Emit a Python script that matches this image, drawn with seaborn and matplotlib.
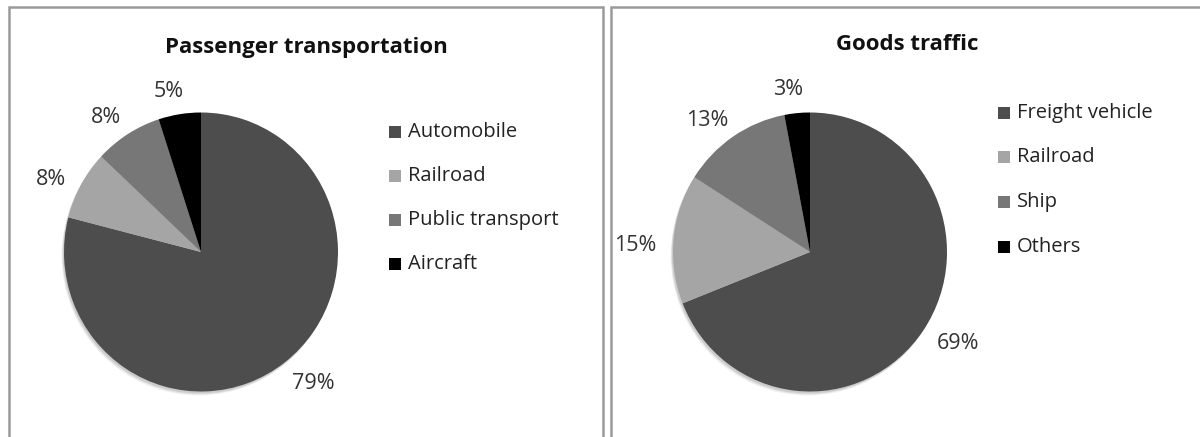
import matplotlib
matplotlib.use("Agg")
import numpy as np
import matplotlib.pyplot as plt
from matplotlib.patches import Rectangle, Ellipse
from matplotlib.transforms import offset_copy
import seaborn as sns

# Modal split data (share in %)
passenger_modes = ["Automobile", "Railroad", "Public transport", "Aircraft"]
passenger_share = [79, 8, 8, 5]

goods_modes = ["Freight vehicle", "Railroad", "Ship", "Others"]
goods_share = [69, 15, 13, 3]

titles = ["Passenger transportation", "Goods traffic"]

sns.set_theme(style="white")
plt.rcParams["font.family"] = ["Open Sans", "DejaVu Sans"]

grays = ["#4d4d4d", "#a5a5a5", "#777777", "#000000"]

W, H = 1200, 437
fig = plt.figure(figsize=(W / 100, H / 100), dpi=100)
fig.patch.set_facecolor("white")


def px_axes(cx, cy, rx, ry):
    """Axes whose -1.25..1.25 range maps to a pie of radius rx/ry pixels at (cx, cy)."""
    w, h = 2.5 * rx, 2.5 * ry
    return fig.add_axes([(cx - w / 2) / W, (H - cy - h / 2) / H, w / W, h / H])


def panel(x0, x1):
    fig.patches.append(Rectangle((x0 / W, -0.1), (x1 - x0) / W, (H - 7) / H + 0.1,
                                 transform=fig.transFigure, fill=False,
                                 edgecolor="#9a9a9a", linewidth=1.8))


panel(9, 603)
panel(611, 1215)

specs = [
    (passenger_modes, passenger_share, titles[0], 201, 252, (306, 48), 395, [132, 176, 220, 264]),
    (goods_modes, goods_share, titles[1], 810, 252, (907, 44), 1004, [113, 157, 202, 247]),
]

RX, RY = 137, 139.5
LABEL_GAP = 1.12
LABEL_TURN = 2.0  # degrees, counter-clockwise nudge of the label direction

pies = []
for modes, share, title, cx, cy, tpos, lx, lys in specs:
    ax = px_axes(cx, cy, RX, RY)
    # soft drop shadow below the pie
    for k, a in [(4.0, 0.05), (3.0, 0.07), (2.0, 0.09)]:
        ax.add_patch(Ellipse((-k / RX * 0.6, -k / RY), 2, 2, facecolor="black",
                             edgecolor="none", alpha=a, zorder=0))
    wedges, texts, autotexts = ax.pie(
        share, colors=grays, startangle=90, counterclock=False,
        autopct="%d%%", pctdistance=LABEL_GAP,
        wedgeprops=dict(linewidth=0, zorder=2),
        textprops=dict(fontsize=15.5, color="#333333"),
    )
    ax.set_aspect("auto")
    ax.set_xlim(-1.25, 1.25)
    ax.set_ylim(-1.25, 1.25)
    ax.axis("off")
    pies.append((ax, wedges, autotexts))

    fig.text(tpos[0] / W, 1 - tpos[1] / H, title, ha="center", va="center",
             fontsize=16, fontweight="bold", color="#111111")

    for name, color, ly in zip(modes, grays, lys):
        fig.patches.append(Rectangle(((lx - 6) / W, 1 - (ly + 6) / H), 12 / W, 12 / H,
                                     transform=fig.transFigure, facecolor=color,
                                     edgecolor="none"))
        fig.text((lx + 13) / W, 1 - ly / H, name, ha="left", va="center",
                 fontsize=14.5, color="#222222")

# place each percentage label just off the rim, its near edge facing the wedge
fig.canvas.draw()
renderer = fig.canvas.get_renderer()
for ax, wedges, autotexts in pies:
    for w, t in zip(wedges, autotexts):
        theta = np.deg2rad((w.theta1 + w.theta2) / 2 + LABEL_TURN)
        t.set_position((LABEL_GAP * np.cos(theta), LABEL_GAP * np.sin(theta)))
        bb = t.get_window_extent(renderer)
        dx = np.cos(theta) * bb.width / 2
        dy = np.sin(theta) * bb.height / 2 - 3
        t.set_transform(offset_copy(ax.transData, fig=fig, x=dx, y=dy, units="dots"))

fig.savefig("out.png", dpi=100, facecolor="white")
